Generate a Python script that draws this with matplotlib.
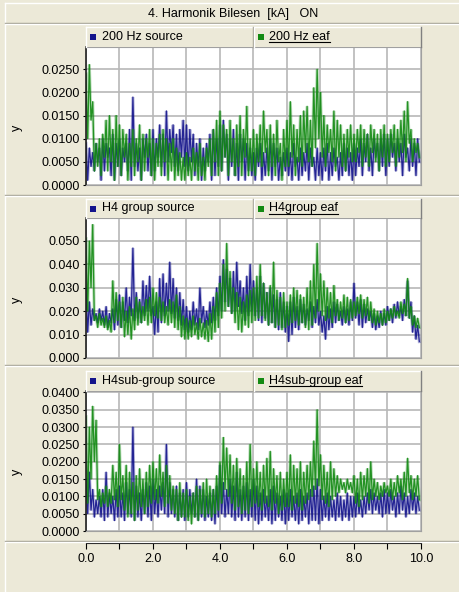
import numpy as np
import matplotlib

matplotlib.use("Agg")
import matplotlib.pyplot as plt
from matplotlib.patches import Rectangle
from matplotlib.lines import Line2D
from matplotlib.transforms import Affine2D, IdentityTransform
from matplotlib.ticker import FormatStrFormatter, MultipleLocator

TITLE = "4. Harmonik Bilesen  [kA]   ON"
STEP = 0.05  # s between samples (peak / trough alternate)

# --- 200 Hz ---------------------------------------------------------------
SRC_200_HI = [
    0.009, 0.008, 0.007, 0.009, 0.008, 0.010, 0.009, 0.008, 0.011, 0.009,
    0.010, 0.008, 0.009, 0.012, 0.019, 0.009, 0.008, 0.010, 0.011, 0.009,
    0.012, 0.010, 0.013, 0.011, 0.016, 0.012, 0.013, 0.011, 0.012, 0.014,
    0.013, 0.012, 0.011, 0.009, 0.010, 0.008, 0.009, 0.011, 0.012, 0.010,
    0.013, 0.014, 0.011, 0.010, 0.012, 0.009, 0.011, 0.010, 0.009, 0.008,
    0.007, 0.008, 0.009, 0.007, 0.008, 0.010, 0.009, 0.008, 0.006, 0.007,
    0.008, 0.007, 0.009, 0.006, 0.008, 0.007, 0.009, 0.008, 0.006, 0.008,
    0.007, 0.008, 0.009, 0.007, 0.008, 0.006, 0.007, 0.009, 0.008, 0.007,
    0.009, 0.008, 0.010, 0.009, 0.011, 0.008, 0.010, 0.009, 0.010, 0.011,
    0.010, 0.011, 0.009, 0.010, 0.009, 0.011, 0.008, 0.010, 0.009, 0.010,
]
SRC_200_LO = [
    0.001, 0.004, 0.003, 0.005, 0.001, 0.003, 0.006, 0.002, 0.001, 0.004,
    0.002, 0.005, 0.003, 0.001, 0.004, 0.003, 0.001, 0.006, 0.003, 0.002,
    0.003, 0.006, 0.004, 0.002, 0.005, 0.007, 0.004, 0.003, 0.006, 0.004,
    0.003, 0.005, 0.002, 0.004, 0.001, 0.003, 0.005, 0.001, 0.002, 0.004,
    0.003, 0.006, 0.001, 0.004, 0.002, 0.001, 0.005, 0.001, 0.003, 0.002,
    0.001, 0.004, 0.001, 0.002, 0.003, 0.001, 0.004, 0.001, 0.002, 0.003,
    0.002, 0.001, 0.004, 0.001, 0.002, 0.003, 0.001, 0.004, 0.001, 0.002,
    0.001, 0.003, 0.001, 0.002, 0.004, 0.001, 0.002, 0.003, 0.002, 0.001,
    0.002, 0.004, 0.002, 0.005, 0.003, 0.002, 0.006, 0.003, 0.004, 0.002,
    0.004, 0.006, 0.003, 0.005, 0.002, 0.006, 0.003, 0.004, 0.002, 0.005,
]
EAF_200_HI = [
    0.024, 0.026, 0.018, 0.009, 0.010, 0.011, 0.014, 0.015, 0.012, 0.015,
    0.013, 0.012, 0.011, 0.009, 0.012, 0.010, 0.013, 0.011, 0.010, 0.012,
    0.010, 0.009, 0.011, 0.012, 0.010, 0.009, 0.010, 0.008, 0.007, 0.006,
    0.007, 0.006, 0.008, 0.007, 0.009, 0.006, 0.008, 0.010, 0.012, 0.014,
    0.016, 0.013, 0.012, 0.014, 0.010, 0.013, 0.015, 0.012, 0.017, 0.010,
    0.012, 0.011, 0.013, 0.016, 0.012, 0.013, 0.011, 0.014, 0.009, 0.012,
    0.014, 0.018, 0.013, 0.012, 0.015, 0.016, 0.017, 0.014, 0.021, 0.025,
    0.020, 0.015, 0.013, 0.012, 0.016, 0.014, 0.013, 0.011, 0.012, 0.013,
    0.011, 0.012, 0.013, 0.012, 0.011, 0.013, 0.012, 0.011, 0.012, 0.013,
    0.011, 0.012, 0.013, 0.012, 0.014, 0.016, 0.018, 0.012, 0.010, 0.009,
]
EAF_200_LO = [
    0.010, 0.014, 0.003, 0.004, 0.002, 0.006, 0.003, 0.005, 0.001, 0.004,
    0.002, 0.006, 0.001, 0.004, 0.002, 0.005, 0.001, 0.003, 0.006, 0.002,
    0.001, 0.004, 0.002, 0.005, 0.001, 0.003, 0.001, 0.002, 0.001, 0.001,
    0.002, 0.001, 0.003, 0.001, 0.002, 0.001, 0.004, 0.002, 0.005, 0.002,
    0.003, 0.006, 0.002, 0.005, 0.002, 0.004, 0.002, 0.006, 0.002, 0.003,
    0.002, 0.005, 0.004, 0.007, 0.002, 0.004, 0.002, 0.005, 0.001, 0.004,
    0.004, 0.006, 0.002, 0.005, 0.004, 0.007, 0.005, 0.004, 0.008, 0.010,
    0.006, 0.004, 0.007, 0.005, 0.003, 0.006, 0.004, 0.003, 0.006, 0.005,
    0.005, 0.007, 0.004, 0.006, 0.004, 0.007, 0.005, 0.003, 0.006, 0.004,
    0.005, 0.007, 0.004, 0.006, 0.007, 0.005, 0.009, 0.005, 0.007, 0.006,
]

# --- H4 group -------------------------------------------------------------
SRC_H4_HI = [
    0.030, 0.024, 0.021, 0.019, 0.021, 0.020, 0.022, 0.019, 0.021, 0.025,
    0.027, 0.024, 0.030, 0.026, 0.047, 0.028, 0.025, 0.033, 0.031, 0.035,
    0.022, 0.024, 0.034, 0.036, 0.032, 0.041, 0.034, 0.030, 0.028, 0.025,
    0.022, 0.020, 0.024, 0.021, 0.030, 0.022, 0.020, 0.024, 0.026, 0.030,
    0.035, 0.042, 0.038, 0.034, 0.037, 0.041, 0.033, 0.030, 0.035, 0.040,
    0.033, 0.030, 0.035, 0.032, 0.028, 0.030, 0.027, 0.025, 0.028, 0.024,
    0.022, 0.024, 0.026, 0.022, 0.025, 0.023, 0.021, 0.024, 0.022, 0.025,
    0.020, 0.018, 0.022, 0.021, 0.024, 0.023, 0.020, 0.022, 0.021, 0.024,
    0.032, 0.024, 0.025, 0.023, 0.021, 0.020, 0.019, 0.018, 0.020, 0.019,
    0.022, 0.021, 0.023, 0.024, 0.022, 0.025, 0.033, 0.024, 0.018, 0.014,
]
SRC_H4_LO = [
    0.011, 0.014, 0.016, 0.015, 0.016, 0.014, 0.013, 0.015, 0.012, 0.014,
    0.013, 0.016, 0.015, 0.018, 0.016, 0.017, 0.015, 0.018, 0.020, 0.018,
    0.010, 0.011, 0.015, 0.018, 0.020, 0.019, 0.017, 0.016, 0.014, 0.012,
    0.011, 0.012, 0.014, 0.012, 0.015, 0.013, 0.014, 0.015, 0.016, 0.018,
    0.020, 0.024, 0.022, 0.019, 0.020, 0.022, 0.019, 0.016, 0.018, 0.020,
    0.018, 0.016, 0.015, 0.017, 0.014, 0.015, 0.013, 0.012, 0.013, 0.011,
    0.007, 0.010, 0.013, 0.012, 0.015, 0.014, 0.016, 0.013, 0.015, 0.014,
    0.011, 0.008, 0.012, 0.013, 0.015, 0.016, 0.014, 0.015, 0.014, 0.016,
    0.017, 0.014, 0.013, 0.015, 0.016, 0.013, 0.012, 0.013, 0.014, 0.014,
    0.016, 0.015, 0.017, 0.018, 0.016, 0.018, 0.017, 0.011, 0.008, 0.007,
]
EAF_H4_HI = [
    0.051, 0.050, 0.057, 0.018, 0.019, 0.017, 0.018, 0.016, 0.033, 0.028,
    0.024, 0.026, 0.020, 0.022, 0.021, 0.026, 0.024, 0.022, 0.025, 0.026,
    0.030, 0.028, 0.026, 0.024, 0.022, 0.025, 0.024, 0.027, 0.022, 0.018,
    0.017, 0.016, 0.018, 0.015, 0.017, 0.015, 0.016, 0.019, 0.022, 0.028,
    0.032, 0.040, 0.049, 0.037, 0.030, 0.028, 0.026, 0.024, 0.027, 0.029,
    0.030, 0.035, 0.040, 0.032, 0.028, 0.031, 0.041, 0.029, 0.026, 0.028,
    0.024, 0.027, 0.030, 0.029, 0.027, 0.026, 0.030, 0.033, 0.040, 0.049,
    0.036, 0.033, 0.030, 0.028, 0.031, 0.025, 0.024, 0.027, 0.026, 0.025,
    0.024, 0.026, 0.027, 0.025, 0.026, 0.024, 0.021, 0.020, 0.019, 0.021,
    0.020, 0.021, 0.022, 0.020, 0.024, 0.023, 0.034, 0.022, 0.018, 0.017,
]
EAF_H4_LO = [
    0.020, 0.030, 0.016, 0.013, 0.014, 0.013, 0.012, 0.011, 0.015, 0.016,
    0.013, 0.009, 0.010, 0.008, 0.012, 0.014, 0.015, 0.016, 0.014, 0.015,
    0.018, 0.017, 0.016, 0.015, 0.014, 0.015, 0.013, 0.012, 0.009, 0.008,
    0.008, 0.009, 0.010, 0.008, 0.009, 0.008, 0.007, 0.008, 0.011, 0.013,
    0.017, 0.020, 0.022, 0.019, 0.015, 0.012, 0.011, 0.014, 0.013, 0.015,
    0.016, 0.017, 0.018, 0.016, 0.014, 0.015, 0.013, 0.014, 0.012, 0.013,
    0.014, 0.015, 0.016, 0.014, 0.015, 0.013, 0.012, 0.014, 0.017, 0.020,
    0.018, 0.016, 0.017, 0.015, 0.018, 0.016, 0.017, 0.015, 0.016, 0.017,
    0.018, 0.019, 0.017, 0.018, 0.016, 0.015, 0.014, 0.015, 0.014, 0.015,
    0.016, 0.017, 0.018, 0.017, 0.019, 0.018, 0.017, 0.014, 0.013, 0.013,
]

# --- H4 sub-group ---------------------------------------------------------
SRC_SUB_HI = [
    0.015, 0.017, 0.012, 0.009, 0.010, 0.012, 0.017, 0.011, 0.010, 0.012,
    0.013, 0.011, 0.014, 0.012, 0.030, 0.013, 0.011, 0.012, 0.014, 0.013,
    0.015, 0.012, 0.013, 0.014, 0.025, 0.014, 0.012, 0.013, 0.011, 0.012,
    0.014, 0.012, 0.011, 0.015, 0.013, 0.012, 0.010, 0.011, 0.012, 0.013,
    0.019, 0.014, 0.012, 0.015, 0.013, 0.017, 0.012, 0.013, 0.014, 0.012,
    0.015, 0.013, 0.011, 0.012, 0.010, 0.012, 0.013, 0.011, 0.010, 0.012,
    0.011, 0.012, 0.010, 0.011, 0.012, 0.010, 0.011, 0.012, 0.013, 0.015,
    0.012, 0.010, 0.011, 0.010, 0.009, 0.011, 0.010, 0.009, 0.011, 0.010,
    0.010, 0.011, 0.009, 0.010, 0.011, 0.012, 0.011, 0.010, 0.011, 0.012,
    0.011, 0.012, 0.010, 0.011, 0.013, 0.011, 0.010, 0.012, 0.011, 0.010,
]
SRC_SUB_LO = [
    0.005, 0.006, 0.004, 0.005, 0.004, 0.003, 0.004, 0.005, 0.003, 0.004,
    0.004, 0.003, 0.005, 0.004, 0.003, 0.004, 0.003, 0.005, 0.004, 0.003,
    0.005, 0.004, 0.006, 0.005, 0.004, 0.005, 0.004, 0.003, 0.004, 0.003,
    0.004, 0.005, 0.004, 0.003, 0.004, 0.003, 0.004, 0.003, 0.002, 0.004,
    0.005, 0.004, 0.005, 0.004, 0.003, 0.004, 0.003, 0.004, 0.003, 0.004,
    0.003, 0.002, 0.003, 0.004, 0.003, 0.002, 0.003, 0.004, 0.003, 0.002,
    0.003, 0.004, 0.003, 0.002, 0.003, 0.004, 0.002, 0.003, 0.003, 0.002,
    0.003, 0.004, 0.003, 0.004, 0.003, 0.004, 0.003, 0.004, 0.003, 0.004,
    0.004, 0.005, 0.004, 0.005, 0.006, 0.005, 0.006, 0.005, 0.004, 0.005,
    0.005, 0.006, 0.004, 0.005, 0.006, 0.004, 0.005, 0.006, 0.005, 0.006,
]
EAF_SUB_HI = [
    0.033, 0.030, 0.036, 0.032, 0.012, 0.011, 0.013, 0.012, 0.019, 0.017,
    0.025, 0.016, 0.019, 0.017, 0.014, 0.016, 0.018, 0.015, 0.017, 0.019,
    0.020, 0.018, 0.022, 0.017, 0.019, 0.016, 0.013, 0.012, 0.014, 0.011,
    0.012, 0.010, 0.011, 0.013, 0.012, 0.014, 0.015, 0.013, 0.012, 0.016,
    0.020, 0.027, 0.024, 0.022, 0.019, 0.021, 0.018, 0.016, 0.020, 0.025,
    0.018, 0.020, 0.017, 0.019, 0.021, 0.023, 0.018, 0.016, 0.017, 0.015,
    0.017, 0.022, 0.019, 0.018, 0.020, 0.017, 0.019, 0.020, 0.026, 0.035,
    0.022, 0.019, 0.017, 0.020, 0.018, 0.016, 0.015, 0.014, 0.015, 0.014,
    0.016, 0.015, 0.017, 0.016, 0.018, 0.020, 0.015, 0.014, 0.013, 0.014,
    0.013, 0.015, 0.014, 0.016, 0.015, 0.017, 0.021, 0.016, 0.015, 0.016,
]
EAF_SUB_LO = [
    0.008, 0.015, 0.020, 0.009, 0.007, 0.008, 0.007, 0.008, 0.009, 0.007,
    0.009, 0.006, 0.004, 0.005, 0.003, 0.006, 0.007, 0.005, 0.007, 0.008,
    0.009, 0.008, 0.010, 0.007, 0.008, 0.006, 0.005, 0.003, 0.004, 0.004,
    0.003, 0.002, 0.004, 0.003, 0.005, 0.004, 0.005, 0.004, 0.005, 0.006,
    0.008, 0.012, 0.010, 0.008, 0.006, 0.007, 0.005, 0.006, 0.005, 0.007,
    0.008, 0.007, 0.006, 0.008, 0.007, 0.006, 0.008, 0.005, 0.006, 0.007,
    0.007, 0.006, 0.008, 0.007, 0.006, 0.008, 0.009, 0.010, 0.012, 0.013,
    0.009, 0.008, 0.007, 0.009, 0.010, 0.011, 0.012, 0.011, 0.012, 0.011,
    0.008, 0.007, 0.009, 0.010, 0.008, 0.009, 0.010, 0.009, 0.010, 0.011,
    0.010, 0.009, 0.010, 0.011, 0.009, 0.010, 0.011, 0.009, 0.010, 0.009,
]

LABELS = [
    ("200 Hz source", "200 Hz eaf"),
    ("H4 group source", "H4group eaf"),
    ("H4sub-group source", "H4sub-group eaf"),
]
SERIES = [
    (SRC_200_HI, SRC_200_LO, EAF_200_HI, EAF_200_LO),
    (SRC_H4_HI, SRC_H4_LO, EAF_H4_HI, EAF_H4_LO),
    (SRC_SUB_HI, SRC_SUB_LO, EAF_SUB_HI, EAF_SUB_LO),
]

BG = "#ECE9D8"
BLUE = "#14148c"
GREEN = "#138a13"
W, H = 460, 592
X0, X1 = 86, 421

# layout in pixels: legend top, plot top, plot bottom, y-label y, ylim top, tick step, format
PANELS = [
    (27, 47, 185, 128, 0.0298, 0.005, "%.4f"),
    (199, 218, 358, 300, 0.0598, 0.010, "%.3f"),
    (371, 391, 531, 472, 0.0404, 0.005, "%.4f"),
]
SEPARATORS = [23, 195, 365, 541]

plt.rcParams["font.family"] = ["Liberation Sans", "DejaVu Sans"]
plt.rcParams["font.size"] = 9

fig = plt.figure(figsize=(W / 100, H / 100), dpi=100, facecolor=BG)
px = Affine2D().scale(1 / W, -1 / H).translate(0, 1) + fig.transFigure


def hline(y, x0, x1, color, lw=1.0):
    fig.add_artist(Line2D([x0, x1], [y, y], color=color, lw=lw, transform=px))


def vline(x, y0, y1, color, lw=1.0):
    fig.add_artist(Line2D([x, x], [y0, y1], color=color, lw=lw, transform=px))


def zigzag(hi, lo):
    y = np.empty(2 * len(hi))
    y[0::2] = hi
    y[1::2] = lo
    x = np.arange(len(y)) * STEP
    return x, y


def trace(ax, hi, lo, color):
    x, y = zigzag(hi, lo)
    # soft wide pass under a thin dark one
    ax.plot(x, y, color=color, lw=2.2, alpha=0.3, solid_joinstyle="miter")
    ax.plot(x, y, color=color, lw=0.9, alpha=0.9)


# title bar
hline(3, 5, W, "white")
vline(5, 3, 592, "white")
fig.text(233, 14, TITLE, transform=px, ha="center", va="center", fontsize=9)
for y in SEPARATORS:
    hline(y - 0.5, 5, W, "#a09d90")
    hline(y + 0.5, 5, W, "white")

underline_texts = []
for (leg_top, top, bottom, ylab_y, ymax, step, fmt), (lab_s, lab_e), (sh, sl, eh, el) in zip(
    PANELS, LABELS, SERIES
):
    # legend strip
    fig.add_artist(
        Rectangle((X0, leg_top), X1 - X0, top - leg_top, transform=px,
                  facecolor=BG, edgecolor="none")
    )
    hline(leg_top, X0, X1, "white")
    vline(X0, leg_top, top, "white")
    vline(253, leg_top, top, "#a09d90")
    vline(254, leg_top, top, "white")
    vline(X1, leg_top, top, "#808080")
    mid = (leg_top + top) / 2
    fig.add_artist(Rectangle((90, mid - 3), 6, 6, transform=px, facecolor=BLUE, edgecolor="none"))
    fig.text(102, mid, lab_s, transform=px, va="center", ha="left")
    fig.add_artist(Rectangle((258, mid - 3), 6, 6, transform=px, facecolor=GREEN, edgecolor="none"))
    t = fig.text(269, mid, lab_e, transform=px, va="center", ha="left")
    underline_texts.append(t)

    ax = fig.add_axes([X0 / W, 1 - bottom / H, (X1 - X0) / W, (bottom - top) / H])
    ax.set_facecolor("white")
    trace(ax, sh, sl, BLUE)
    trace(ax, eh, el, GREEN)

    ax.set_xlim(0, 10)
    ax.set_ylim(0, ymax)
    ax.xaxis.set_major_locator(MultipleLocator(1.0))
    ax.yaxis.set_major_locator(MultipleLocator(step))
    ax.yaxis.set_major_formatter(FormatStrFormatter(fmt))
    ax.grid(True, color="#b8b8b8", lw=1.2)
    ax.set_axisbelow(True)
    ax.tick_params(axis="x", length=0, labelbottom=False)
    ax.tick_params(axis="y", direction="out", length=2.5, width=0.8, pad=2, labelsize=9)
    for side in ("top", "right", "bottom"):
        ax.spines[side].set_color("#a0a0a0")
    ax.spines["left"].set_color("#202020")
    ax.spines["left"].set_linewidth(1.2)
    fig.text(17, ylab_y, "y", transform=px, rotation=90, ha="center", va="center")

# shared time axis below the last panel
axx = fig.add_axes([X0 / W, 1 - 543 / H, (X1 - X0) / W, 0.5 / H])
axx.set_facecolor("none")
axx.set_xlim(0, 10)
axx.set_yticks([])
for side in ("top", "right", "left"):
    axx.spines[side].set_visible(False)
axx.spines["bottom"].set_color("black")
axx.xaxis.set_major_locator(MultipleLocator(2.0))
axx.xaxis.set_minor_locator(MultipleLocator(1.0))
axx.xaxis.set_major_formatter(FormatStrFormatter("%.1f"))
axx.tick_params(axis="x", which="both", direction="out", length=4, width=0.8, pad=3, labelsize=9)

# underline the eaf legend entries
fig.canvas.draw()
for t in underline_texts:
    bb = t.get_window_extent()
    fig.add_artist(
        Line2D([bb.x0, bb.x1], [bb.y0 + 1, bb.y0 + 1], color="black", lw=0.8,
               transform=IdentityTransform())
    )

fig.savefig("out.png", dpi=100, facecolor=BG)
